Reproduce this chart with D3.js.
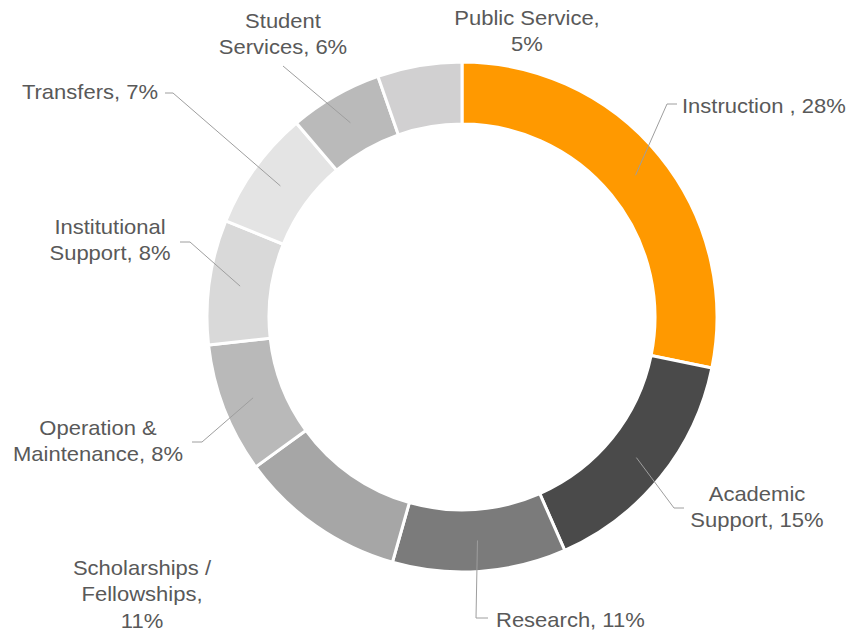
<!DOCTYPE html>
<html>
<head>
<meta charset="utf-8">
<script src="https://cdn.jsdelivr.net/npm/d3@7"></script>
<style>
  body { margin: 0; background: #fff; }
  text { font-family: "Liberation Sans", Arial, sans-serif; }
</style>
</head>
<body>
<div id="chart"></div>
<script>

// data, clockwise from 12 o'clock
var categories = ["Instruction", "Academic Support", "Research", "Scholarships / Fellowships",
                  "Operation & Maintenance", "Institutional Support", "Transfers",
                  "Student Services", "Public Service"];
var shares = [28.2, 15.2, 11.0, 10.6, 8.25, 7.9, 7.6, 5.9, 5.35];
var labelLines = [
  ["Instruction , 28%"],
  ["Academic", "Support, 15%"],
  ["Research, 11%"],
  ["Scholarships /", "Fellowships,", "11%"],
  ["Operation &", "Maintenance, 8%"],
  ["Institutional", "Support, 8%"],
  ["Transfers, 7%"],
  ["Student", "Services, 6%"],
  ["Public Service,", "5%"]
];
var colors = ["#ff9900", "#4a4a4a", "#7b7b7b", "#a6a6a6", "#b9b9b9",
              "#d9d9d9", "#e4e4e4", "#bababa", "#d1d0d1"];

// label placement: elbow + end of leader, text anchor point
var labelPos = [
  {elbow: [667, 104], end: [677, 104], x: 682, y: 113, anchor: "start"},
  {elbow: [674, 508], end: [684, 508], x: 757, y: 501, anchor: "middle"},
  {elbow: [476, 618], end: [488, 618], x: 496, y: 627, anchor: "start"},
  {elbow: null, end: null, x: 142, y: 575, anchor: "middle"},
  {elbow: [202, 442], end: [192, 442], x: 98, y: 435, anchor: "middle"},
  {elbow: [190, 242], end: [180, 242], x: 110, y: 234, anchor: "middle"},
  {elbow: [173, 93], end: [165, 93], x: 158, y: 99, anchor: "end"},
  {elbow: [283, 66], end: null, x: 283, y: 28, anchor: "middle"},
  {elbow: null, end: null, x: 527, y: 25, anchor: "middle"}
];

var W = 851, H = 632;
var cx = 462, cy = 317, rOuter = 255, rInner = 193;

var svg = d3.select("#chart")
  .append("svg")
    .attr("width", W)
    .attr("height", H);

var pie = d3.pie().sort(null).value(function (d) { return d; });
var arcs = pie(shares);

var arc = d3.arc().innerRadius(rInner).outerRadius(rOuter);
var midArc = d3.arc().innerRadius(224).outerRadius(224);

var g = svg.append("g")
  .attr("transform", "translate(" + cx + "," + cy + ")");

g.selectAll("path")
  .data(arcs)
  .enter()
  .append("path")
    .attr("d", arc)
    .attr("fill", function (d, i) { return colors[i]; })
    .attr("stroke", "#fff")
    .attr("stroke-width", 3);

// leader lines
arcs.forEach(function (a, i) {
  var p = labelPos[i];
  if (!p.elbow) return;
  var c = midArc.centroid(a);
  var pts = [[c[0] + cx, c[1] + cy], p.elbow];
  if (p.end) pts.push(p.end);
  svg.append("path")
    .attr("d", d3.line()(pts))
    .attr("fill", "none")
    .attr("stroke", "#9e9e9e")
    .attr("stroke-width", 1);
});

// labels (the source text is a little wider than the font, stretch it)
labelLines.forEach(function (lines, i) {
  var p = labelPos[i];
  var t = svg.append("text")
    .attr("transform", "translate(" + p.x + "," + p.y + ") scale(1.1,1)")
    .attr("text-anchor", p.anchor)
    .attr("font-size", "20px")
    .attr("fill", "#595959");
  lines.forEach(function (s, j) {
    t.append("tspan")
      .attr("x", 0)
      .attr("dy", j === 0 ? 0 : 26.5)
      .text(s);
  });
});

</script>
</body>
</html>
